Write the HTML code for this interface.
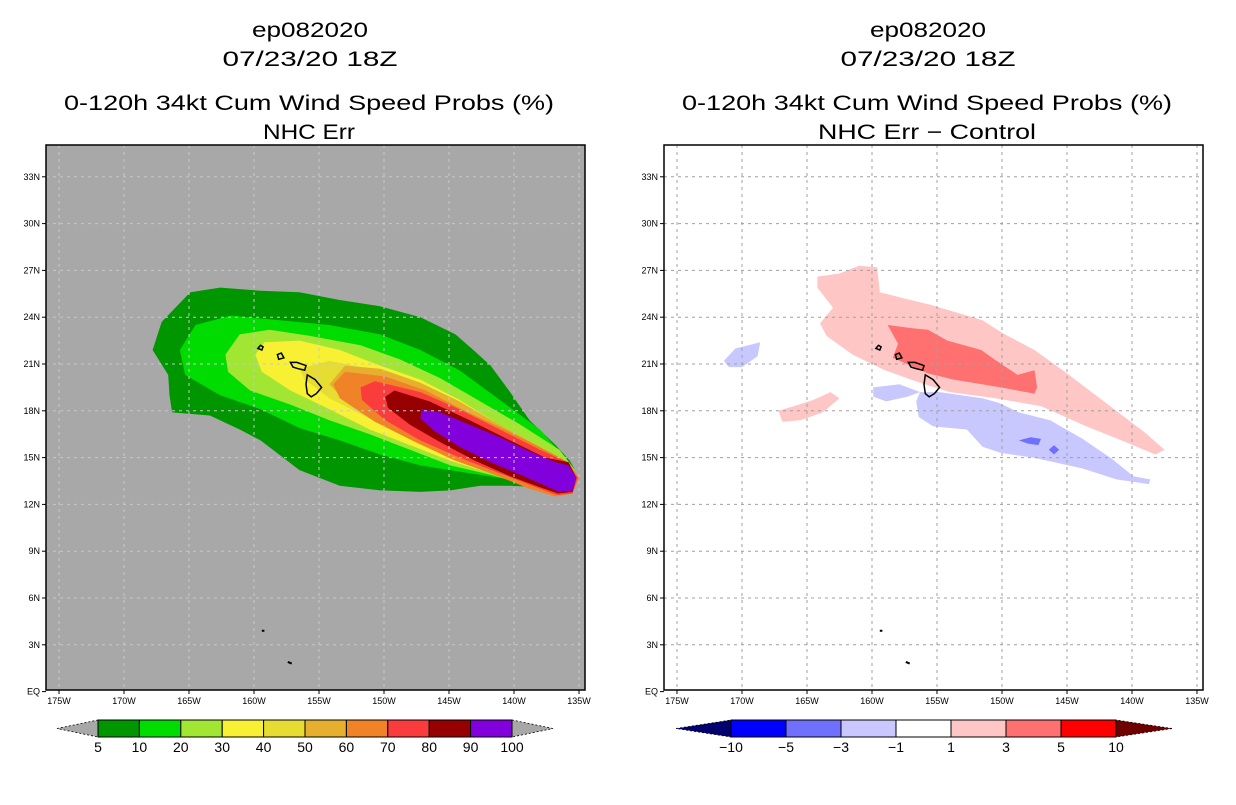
<!DOCTYPE html>
<html><head><meta charset="utf-8">
<style>
html,body{margin:0;padding:0;background:#fff;}
body{width:1236px;height:800px;overflow:hidden;font-family:"Liberation Sans",sans-serif;}
</style></head>
<body>
<svg id="chart" width="1236" height="800" viewBox="0 0 1236 800" xmlns="http://www.w3.org/2000/svg" font-family="Liberation Sans, sans-serif">
  <g font-size="21" text-anchor="middle" fill="#000">
    <text x="310" y="37" textLength="116" lengthAdjust="spacingAndGlyphs">ep082020</text>
    <text x="310" y="66" textLength="175" lengthAdjust="spacingAndGlyphs">07/23/20 18Z</text>
    <text x="309" y="110" textLength="490" lengthAdjust="spacingAndGlyphs">0-120h 34kt Cum Wind Speed Probs (%)</text>
    <text x="309" y="139" textLength="92" lengthAdjust="spacingAndGlyphs">NHC Err</text>
  </g>
  <g font-size="21" text-anchor="middle" fill="#000">
    <text x="928" y="37" textLength="116" lengthAdjust="spacingAndGlyphs">ep082020</text>
    <text x="928" y="66" textLength="175" lengthAdjust="spacingAndGlyphs">07/23/20 18Z</text>
    <text x="927" y="110" textLength="490" lengthAdjust="spacingAndGlyphs">0-120h 34kt Cum Wind Speed Probs (%)</text>
    <text x="927" y="139" textLength="218" lengthAdjust="spacingAndGlyphs">NHC Err − Control</text>
  </g>
  <g id="left"></g>
  <g id="right"></g>
  <g id="cbl"></g>
  <g id="cbr"></g>
</svg>
<script>
const NS="http://www.w3.org/2000/svg";
const lonTicks=[-175,-170,-165,-160,-155,-150,-145,-140,-135];
const latTicks=[0,3,6,9,12,15,18,21,24,27,30,33];
const latLabels=["EQ","3N","6N","9N","12N","15N","18N","21N","24N","27N","30N","33N"];
const probLevels=["5","10","20","30","40","50","60","70","80","90","100"];
const probColors=["#009600","#00dc00","#a0e632","#f8f032","#e6dc32","#e6af2d","#f08228","#fa3c3c","#960000","#8200dc"];
const diffLevels=["−10","−5","−3","−1","1","3","5","10"];
const diffColors=["#0000ff","#7070ff","#c8c8ff","#ffffff","#ffc6c6","#ff7070","#ff0000"];
// probability contour regions [lon,lat]
const p5=[[-167.8,21.9],[-167.1,23.7],[-164.9,25.6],[-162.6,25.9],[-159.5,25.7],[-156.5,25.6],[-153.4,25.1],[-150.3,24.7],[-147.2,24.0],[-144.5,22.9],[-143.0,21.8],[-141.8,20.9],[-140.3,19.2],[-138.8,17.4],[-136.8,15.8],[-135.7,14.8],[-135.3,14.2],[-136.1,12.9],[-138.0,13.1],[-140.3,13.2],[-142.6,13.2],[-144.9,12.9],[-147.2,12.8],[-150.3,12.9],[-153.4,13.2],[-156.5,14.2],[-159.5,16.1],[-161.1,16.8],[-163.4,17.7],[-166.3,17.9],[-166.5,19.0],[-166.6,20.3]];
const p10=[[-165.7,21.9],[-164.5,23.5],[-161.8,24.1],[-158.0,23.8],[-154.2,23.5],[-150.3,22.9],[-147.2,21.9],[-144.2,20.6],[-141.1,18.7],[-138.0,16.8],[-136.1,15.0],[-135.3,14.2],[-136.5,12.7],[-138.0,13.2],[-141.1,13.7],[-144.2,14.1],[-147.2,14.5],[-150.3,15.2],[-153.4,16.1],[-156.5,16.9],[-159.5,18.1],[-162.6,19.0],[-165.3,20.3]];
const p20=[[-162.2,21.6],[-161.1,22.9],[-158.8,23.2],[-155.7,22.8],[-151.8,22.2],[-148.8,21.3],[-145.7,20.1],[-142.6,18.6],[-139.5,17.1],[-136.5,15.5],[-135.3,14.2],[-136.5,12.7],[-138.8,13.2],[-141.8,13.9],[-144.9,14.5],[-148.0,15.5],[-151.1,16.5],[-154.2,17.4],[-157.2,18.4],[-160.3,19.3],[-162.0,20.5]];
const p30=[[-159.9,21.6],[-159.2,22.4],[-156.5,22.5],[-153.4,21.9],[-150.3,20.9],[-147.2,20.0],[-144.2,18.7],[-141.1,17.1],[-138.0,15.7],[-136.1,14.8],[-135.5,14.0],[-136.5,12.8],[-138.8,13.2],[-141.8,14.0],[-144.9,14.8],[-148.0,15.8],[-151.1,16.8],[-154.2,18.1],[-157.2,19.3],[-159.4,20.5]];
const p40=[[-156.5,20.7],[-154.2,21.2],[-151.1,20.7],[-148.0,19.7],[-144.9,18.4],[-141.8,17.0],[-138.8,15.6],[-136.5,14.5],[-135.6,14.2],[-136.5,13.0],[-138.8,13.4],[-141.8,14.2],[-144.9,15.2],[-148.0,16.3],[-151.1,17.5],[-154.2,18.8],[-156.1,20.0]];
const p50=[[-154.2,19.7],[-153.0,20.9],[-150.3,20.7],[-147.2,19.8],[-144.2,18.6],[-141.1,17.1],[-138.0,15.7],[-136.1,14.6],[-135.6,14.2],[-136.5,13.0],[-138.8,13.5],[-141.8,14.4],[-144.9,15.5],[-148.0,16.8],[-151.1,18.1],[-153.4,19.0]];
const p60=[[-153.9,19.7],[-153.0,20.5],[-149.9,20.2],[-146.8,19.3],[-143.8,18.0],[-140.7,16.8],[-137.6,15.5],[-135.8,14.7],[-135.0,13.7],[-135.5,12.7],[-136.8,12.5],[-138.8,13.0],[-141.5,13.9],[-144.5,14.8],[-147.6,16.0],[-150.7,17.3],[-153.4,18.8]];
const p70=[[-151.8,19.5],[-150.7,19.9],[-147.2,19.2],[-144.2,18.1],[-141.1,16.8],[-138.0,15.5],[-135.9,14.7],[-135.1,13.7],[-135.5,12.7],[-136.7,12.6],[-138.0,13.0],[-141.1,14.0],[-144.2,15.0],[-147.2,16.1],[-149.9,17.4],[-151.7,18.7]];
const p80=[[-149.9,18.9],[-149.2,19.3],[-146.5,18.6],[-143.4,17.4],[-140.3,16.1],[-137.6,15.0],[-135.8,14.7],[-135.2,13.7],[-135.5,12.8],[-136.6,12.7],[-138.0,13.1],[-140.3,13.8],[-143.0,14.8],[-145.7,16.0],[-148.0,17.1],[-149.7,18.2]];
const p90=[[-147.1,18.1],[-145.7,17.9],[-143.4,17.1],[-141.1,16.3],[-138.8,15.4],[-136.8,14.7],[-135.8,14.5],[-135.2,13.7],[-135.5,12.9],[-136.5,12.8],[-137.6,13.2],[-139.5,13.9],[-141.8,14.7],[-144.2,15.7],[-146.1,16.7],[-147.2,17.5]];
// difference regions
const dPink=[[-164.0,23.6],[-163.0,24.6],[-164.2,25.9],[-164.2,26.6],[-162.5,26.8],[-161.0,27.3],[-159.6,27.2],[-159.4,25.6],[-157.5,25.2],[-155.5,24.8],[-153.5,24.3],[-151.5,23.8],[-150.0,23.0],[-147.5,21.9],[-145.0,20.4],[-142.0,18.5],[-139.0,16.6],[-137.5,15.5],[-138.2,15.2],[-140.5,16.0],[-143.5,17.0],[-147.0,18.3],[-150.5,18.8],[-154.0,19.2],[-155.6,19.6],[-157.0,20.0],[-159.0,20.6],[-161.5,21.6],[-163.5,22.8]];
const dPinkSW=[[-167.2,18.0],[-166.0,18.3],[-164.5,18.7],[-163.2,19.2],[-162.5,18.8],[-163.8,17.9],[-165.5,17.4],[-166.9,17.3]];
const dRed=[[-158.8,23.5],[-157.0,23.3],[-155.7,23.2],[-154.2,22.5],[-151.6,21.9],[-150.6,21.3],[-148.8,20.3],[-147.5,20.6],[-147.3,19.5],[-147.5,19.1],[-150.1,19.5],[-153.7,20.0],[-155.7,20.4],[-158.4,21.4],[-158.0,22.3]];
const dBlue=[[-156.3,19.2],[-154.8,19.2],[-151.5,18.8],[-150.2,18.5],[-148.7,17.9],[-146.3,17.4],[-143.8,16.2],[-141.5,14.9],[-139.9,13.8],[-138.6,13.6],[-138.7,13.3],[-141.2,13.6],[-143.8,14.3],[-147.6,15.0],[-150.1,15.3],[-151.5,15.7],[-152.7,16.8],[-155.3,17.0],[-156.4,17.6],[-156.6,18.6]];
const dBlueW=[[-159.9,19.5],[-157.9,19.7],[-156.3,19.2],[-157.3,18.9],[-158.9,18.6],[-159.9,18.9]];
const dBlueFar=[[-171.4,21.2],[-170.5,22.0],[-169.5,22.2],[-168.6,22.4],[-168.8,21.5],[-170.0,20.8],[-171.0,20.8]];
const dDark1=[[-148.7,16.1],[-147.8,16.3],[-147.0,16.2],[-147.2,15.8],[-148.0,15.9]];
const dDark2=[[-146.4,15.5],[-146.0,15.8],[-145.6,15.5],[-146.0,15.2]];
// islands
const kauai=[[-159.7,22.0],[-159.5,22.2],[-159.3,22.1],[-159.4,21.9]];
const oahu=[[-158.2,21.6],[-157.9,21.7],[-157.7,21.4],[-158.1,21.3]];
const maui=[[-157.2,21.1],[-156.7,21.1],[-156.0,20.9],[-156.1,20.6],[-156.6,20.7],[-157.0,20.8]];
const bigIsland=[[-155.9,20.3],[-155.3,20.0],[-154.8,19.5],[-155.2,19.1],[-155.6,18.9],[-155.9,19.1],[-156.0,19.7]];
const islandA=[[-159.4,3.9],[-159.2,3.9]];
const islandB=[[-157.4,1.9],[-157.1,1.8]];

const X0=[189,807];
function xs(p,lon){return X0[p]+(lon+165)*13;}
function ys(lat){return 364-(lat-21)*15.6;}
function mk(tag,attrs,parent){const e=document.createElementNS(NS,tag);for(const k in attrs)e.setAttribute(k,attrs[k]);parent.appendChild(e);return e;}
function poly(p,pts,fill,stroke,parent,name){
  const e=mk('polygon',{points:pts.map(q=>xs(p,q[0]).toFixed(1)+','+ys(q[1]).toFixed(1)).join(' '),fill:fill,stroke:stroke||'none','stroke-width':stroke?1.5:0},parent);
  
  
  return e;
}
function panel(p,g,bg){
  const L=46+p*618,R=585+p*618,T=145,B=690;
  const clip=mk('clipPath',{id:'clip'+p},g);
  mk('rect',{x:L,y:T,width:R-L,height:B-T},clip);
  const bgr=mk('rect',{x:L,y:T,width:R-L,height:B-T,fill:bg},g);
  
  
  const inner=mk('g',{'clip-path':'url(#clip'+p+')'},g);
  return {L,R,T,B,inner};
}
function grid(p,P,g,color){
  lonTicks.forEach(l=>{const x=xs(p,l);if(x>P.L+2&&x<P.R-2){const e=mk('line',{x1:x,y1:P.T,x2:x,y2:P.B,stroke:color,'stroke-width':1,'stroke-dasharray':'3,4'},g);}});
  latTicks.forEach(l=>{const y=ys(l);if(y>P.T+2&&y<P.B-2){const e=mk('line',{x1:P.L,y1:y,x2:P.R,y2:y,stroke:color,'stroke-width':1,'stroke-dasharray':'3,4'},g);}});
}
function islands(p,g){
  [kauai,oahu,maui,bigIsland].forEach((isl,i)=>poly(p,isl,'none','#000',g,'island-'+i));
  [islandA,islandB].forEach((isl,i)=>{const e=mk('line',{x1:xs(p,isl[0][0]),y1:ys(isl[0][1]),x2:xs(p,isl[1][0]),y2:ys(isl[1][1]),stroke:'#000','stroke-width':2},g);});
}
function axes(p,P,g){
  const fr=mk('rect',{x:P.L,y:P.T,width:P.R-P.L,height:P.B-P.T,fill:'none',stroke:'#000','stroke-width':1.5},g);
  
  
  lonTicks.forEach(l=>{const x=xs(p,l);
    mk('line',{x1:x,y1:P.B,x2:x,y2:P.B+4,stroke:'#000'},g);
    const t=mk('text',{x:x,y:P.B+14,'font-size':9,'text-anchor':'middle',fill:'#000'},g);
    t.textContent=(-l)+'W';
    
    });
  latTicks.forEach((l,i)=>{const y=ys(l);
    mk('line',{x1:P.L-4,y1:y,x2:P.L,y2:y,stroke:'#000'},g);
    const t=mk('text',{x:P.L-6,y:y+3,'font-size':9,'text-anchor':'end',fill:'#000'},g);
    t.textContent=latLabels[i];
    
    });
}
// left panel
const gl=document.getElementById('left');
const PL=panel(0,gl,'#a8a8a8');
[p5,p10,p20,p30,p40,p50,p60,p70,p80,p90].forEach((pts,i)=>poly(0,pts,probColors[i],null,PL.inner,'prob-region-'+probLevels[i]));
grid(0,PL,PL.inner,'#c8c8c8');
islands(0,PL.inner);
axes(0,PL,gl);
// right panel
const gr=document.getElementById('right');
const PR=panel(1,gr,'#ffffff');
poly(1,dPink,diffColors[4],null,PR.inner,'diff-region-1-3');
poly(1,dPinkSW,diffColors[4],null,PR.inner,'diff-region-1-3-sw');
poly(1,dRed,diffColors[5],null,PR.inner,'diff-region-3-5');
poly(1,dBlue,diffColors[2],null,PR.inner,'diff-region-neg1-neg3');
poly(1,dBlueW,diffColors[2],null,PR.inner,'diff-region-neg1-neg3-w');
poly(1,dBlueFar,diffColors[2],null,PR.inner,'diff-region-neg1-neg3-far');
poly(1,dDark1,diffColors[1],null,PR.inner,'diff-region-neg3-neg5-a');
poly(1,dDark2,diffColors[1],null,PR.inner,'diff-region-neg3-neg5-b');
grid(1,PR,PR.inner,'#a0a0a0');
islands(1,PR.inner);
axes(1,PR,gr);
// colorbars
function colorbar(g,x0,x1,tipL,tipR,colors,labels,leftTip,rightTip){
  const y0=720,y1=737,ym=728.5,w=(x1-x0)/colors.length;
  const a=mk('polygon',{points:`${tipL},${ym} ${x0},${y0} ${x0},${y1}`,fill:leftTip,stroke:'#000','stroke-width':0.8,'stroke-dasharray':'2,2'},g);
  
  const b=mk('polygon',{points:`${tipR},${ym} ${x1},${y0} ${x1},${y1}`,fill:rightTip,stroke:'#000','stroke-width':0.8,'stroke-dasharray':'2,2'},g);
  
  colors.forEach((c,i)=>{const r=mk('rect',{x:x0+i*w,y:y0,width:w,height:y1-y0,fill:c,stroke:'#000','stroke-width':1},g);
    });
  labels.forEach((l,i)=>{const t=mk('text',{x:x0+i*w,y:752,'font-size':14,'text-anchor':'middle',fill:'#000'},g);
    t.textContent=l;});
}
colorbar(document.getElementById('cbl'),98,512,57,553,probColors,probLevels,'#a8a8a8','#a8a8a8');
colorbar(document.getElementById('cbr'),731,1116,676,1172,diffColors,diffLevels,'#00006e','#6e0000');
</script>
</body></html>
